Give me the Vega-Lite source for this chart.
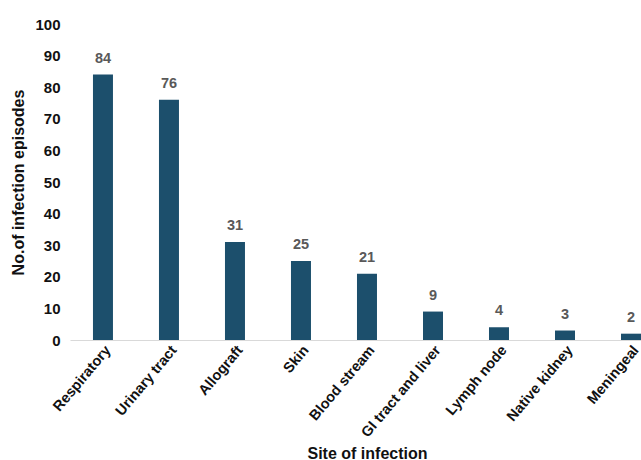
{
  "$schema": "https://vega.github.io/schema/vega-lite/v6.json",
  "width": 571,
  "height": 316,
  "autosize": {"type": "none"},
  "padding": {"left": 70, "top": 24, "right": 0, "bottom": 120},
  "background": "white",
  "config": {"view": {"stroke": null}, "font": "Liberation Sans"},
  "data": {
    "values": [
      {"site": "Respiratory", "count": 84},
      {"site": "Urinary tract", "count": 76},
      {"site": "Allograft", "count": 31},
      {"site": "Skin", "count": 25},
      {"site": "Blood stream", "count": 21},
      {"site": "GI tract and liver", "count": 9},
      {"site": "Lymph node", "count": 4},
      {"site": "Native kidney", "count": 3},
      {"site": "Meningeal", "count": 2}
    ]
  },
  "encoding": {
    "x": {
      "field": "site",
      "type": "nominal",
      "sort": null,
      "scale": {"paddingInner": 0.697, "paddingOuter": 0.174, "align": 1},
      "axis": {
        "title": "Site of infection",
        "titleFontSize": 16,
        "titleFontWeight": "bold",
        "titleColor": "#111111",
        "titleX": 297,
        "titleY": 118,
        "titleBaseline": "alphabetic",
        "labelAngle": -50,
        "labelAlign": "right",
        "labelBaseline": "top",
        "labelFontSize": 14.5,
        "labelFontWeight": "bold",
        "labelColor": "#111111",
        "labelPadding": 3,
        "ticks": false,
        "domainColor": "#d9d9d9",
        "domainWidth": 1
      }
    },
    "y": {
      "field": "count",
      "type": "quantitative",
      "scale": {"domain": [0, 100], "nice": false},
      "axis": {
        "title": "No.of infection episodes",
        "titleFontSize": 16,
        "titleFontWeight": "bold",
        "titleColor": "#111111",
        "titlePadding": 8,
        "values": [0, 10, 20, 30, 40, 50, 60, 70, 80, 90, 100],
        "labelFontSize": 15,
        "labelFontWeight": "bold",
        "labelColor": "#111111",
        "labelPadding": 10,
        "ticks": false,
        "domain": false,
        "grid": false
      }
    }
  },
  "layer": [
    {"mark": {"type": "bar", "color": "#1c4f6c"}},
    {
      "mark": {
        "type": "text",
        "dy": -9,
        "baseline": "bottom",
        "fontSize": 14.5,
        "fontWeight": "bold",
        "color": "#595959"
      },
      "encoding": {"text": {"field": "count", "type": "quantitative"}}
    }
  ]
}
